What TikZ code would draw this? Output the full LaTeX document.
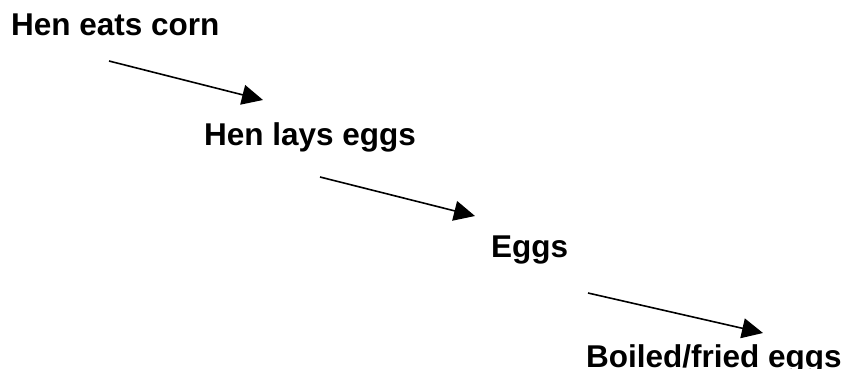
\documentclass[tikz,border=0pt]{standalone}
\usepackage{fontspec}
\setmainfont{Liberation Sans}
\usetikzlibrary{arrows.meta}
\begin{document}
\begin{tikzpicture}[x=1pt,y=-1pt,
  lbl/.style={anchor=base west,inner sep=0pt,font=\fontsize{31.5}{36}\selectfont\bfseries},
  flow/.style={line width=1.6pt,-{Triangle[length=21pt,width=20pt]}}]
\useasboundingbox (0,0) rectangle (847,369);
\node[lbl] (n1) at (11,36) {Hen eats corn};
\node[lbl] (n2) at (204,146) {Hen lays eggs};
\node[lbl] (n3) at (491,257) {Eggs};
\node[lbl] (n4) at (586,367) {Boiled/fried eggs};
\coordinate (s1) at (109,61);
\coordinate (e1) at (263,100);
\coordinate (s2) at (320,177);
\coordinate (e2) at (475,216);
\coordinate (s3) at (588,293);
\coordinate (e3) at (763,333);
\draw[flow] (s1) -- (e1);
\draw[flow] (s2) -- (e2);
\draw[flow] (s3) -- (e3);
\end{tikzpicture}
\end{document}
